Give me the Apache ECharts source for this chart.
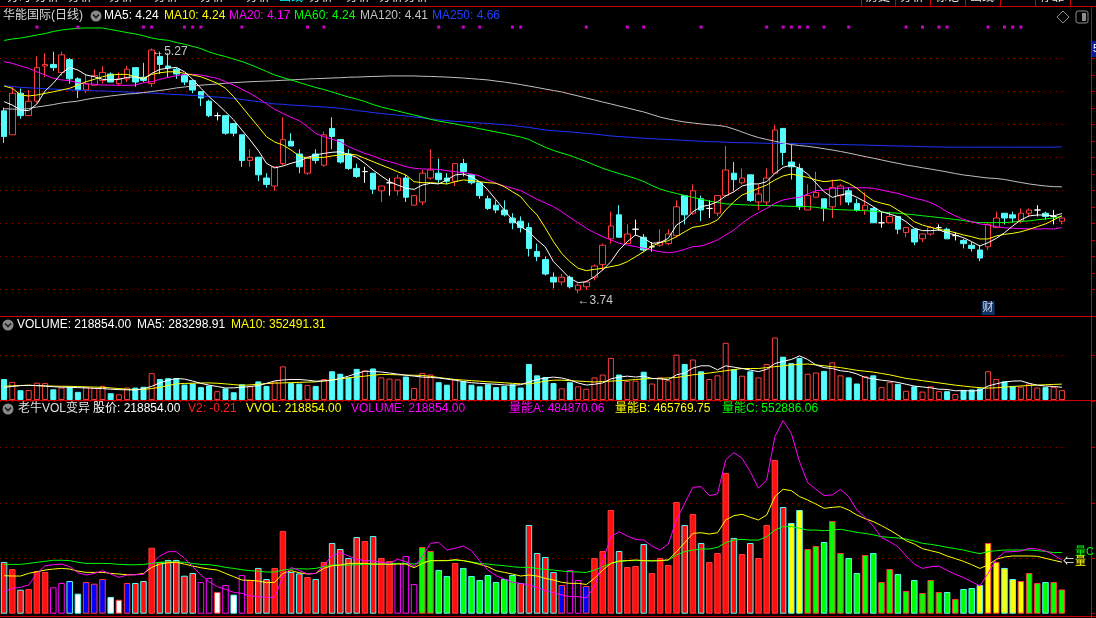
<!DOCTYPE html>
<html><head><meta charset="utf-8">
<script src="https://cdn.jsdelivr.net/npm/echarts@6/dist/echarts.min.js"></script>
<style>html,body{margin:0;padding:0;background:#000;overflow:hidden}#c{width:1096px;height:618px}</style>
</head><body><div id="c"></div>
<script>
// ---------- data ----------
const OPEN = [4.88,4.73,4.99,4.85,4.94,5.16,5.17,5.12,5.20,5.08,5.01,5.04,5.07,5.11,5.05,5.08,5.15,5.09,5.05,5.22,
5.16,5.14,5.10,5.07,5.00,4.94,4.85,4.85,4.80,4.73,4.57,4.59,4.46,4.41,4.55,4.69,4.61,4.49,4.61,4.54,
4.77,4.70,4.61,4.52,4.50,4.49,4.38,4.43,4.38,4.46,4.29,4.31,4.46,4.49,4.46,4.44,4.55,4.48,4.43,4.33,
4.29,4.26,4.21,4.19,4.15,4.00,3.95,3.84,3.81,3.84,3.76,3.78,3.84,3.92,4.08,4.23,4.05,4.14,4.09,4.03,
4.04,4.05,4.10,4.35,4.24,4.33,4.27,4.24,4.35,4.49,4.43,4.48,4.31,4.31,4.49,4.77,4.56,4.52,4.26,4.34,
4.33,4.28,4.35,4.38,4.30,4.26,4.27,4.18,4.18,4.22,4.12,4.14,4.08,4.11,4.15,4.14,4.10,4.07,4.04,4.01,
4.03,4.15,4.24,4.23,4.19,4.24,4.26,4.24,4.22,4.19];
const CLOSE = [4.72,4.99,4.85,4.94,5.15,5.17,5.15,5.23,5.08,5.01,5.05,5.10,5.12,5.06,5.08,5.14,5.06,5.07,5.26,5.17,
5.15,5.11,5.06,5.01,4.96,4.85,4.85,4.74,4.74,4.57,4.59,4.48,4.42,4.53,4.70,4.66,4.53,4.59,4.57,4.73,
4.72,4.56,4.52,4.47,4.50,4.39,4.41,4.43,4.46,4.34,4.35,4.49,4.51,4.45,4.44,4.55,4.50,4.43,4.35,4.27,
4.26,4.23,4.18,4.15,4.02,3.97,3.86,3.81,3.84,3.78,3.79,3.81,3.91,4.04,4.16,4.09,4.11,4.14,4.01,4.03,
4.06,4.11,4.28,4.23,4.38,4.26,4.27,4.35,4.51,4.45,4.46,4.32,4.36,4.46,4.76,4.62,4.53,4.28,4.35,4.37,
4.27,4.40,4.41,4.31,4.26,4.29,4.18,4.18,4.22,4.14,4.15,4.06,4.11,4.15,4.15,4.08,4.10,4.05,4.02,3.96,
4.17,4.21,4.21,4.21,4.24,4.26,4.26,4.22,4.22,4.21];
const LOW = [4.68,4.73,4.83,4.85,4.93,5.09,5.13,5.10,5.05,4.96,4.99,5.04,5.05,5.06,5.04,5.06,5.03,5.06,5.03,5.11,
5.09,5.08,5.04,4.99,4.91,4.84,4.82,4.73,4.72,4.53,4.53,4.44,4.40,4.38,4.54,4.66,4.49,4.48,4.55,4.53,
4.64,4.55,4.51,4.46,4.43,4.36,4.31,4.35,4.35,4.31,4.29,4.29,4.45,4.43,4.42,4.41,4.47,4.42,4.33,4.26,
4.24,4.22,4.14,4.12,3.97,3.94,3.85,3.77,3.79,3.77,3.74,3.76,3.82,3.88,4.05,4.09,4.05,4.10,4.00,4.00,
4.03,4.04,4.09,4.17,4.23,4.19,4.21,4.22,4.34,4.38,4.42,4.31,4.26,4.29,4.49,4.54,4.45,4.26,4.26,4.34,
4.19,4.21,4.29,4.29,4.25,4.23,4.18,4.15,4.18,4.11,4.09,4.04,4.06,4.10,4.13,4.08,4.07,4.02,4.00,3.94,
4.01,4.15,4.17,4.18,4.18,4.22,4.22,4.20,4.17,4.17];
const HIGH = [4.90,5.03,5.02,5.01,5.22,5.24,5.25,5.25,5.21,5.09,5.11,5.14,5.16,5.12,5.12,5.16,5.15,5.18,5.27,5.25,
5.24,5.15,5.11,5.07,5.00,4.95,4.87,4.85,4.80,4.73,4.64,4.59,4.49,4.53,4.84,4.74,4.64,4.59,4.64,4.75,
4.84,4.70,4.64,4.55,4.53,4.49,4.41,4.46,4.48,4.48,4.35,4.51,4.64,4.58,4.49,4.55,4.58,4.48,4.43,4.35,
4.32,4.32,4.24,4.22,4.18,4.05,3.97,3.87,3.86,3.85,3.80,3.82,3.92,4.05,4.25,4.29,4.17,4.20,4.11,4.06,
4.14,4.14,4.32,4.35,4.42,4.35,4.32,4.35,4.66,4.56,4.52,4.48,4.42,4.52,4.79,4.77,4.67,4.55,4.42,4.50,
4.33,4.45,4.42,4.40,4.33,4.37,4.28,4.25,4.25,4.22,4.15,4.14,4.11,4.16,4.17,4.15,4.12,4.08,4.06,4.04,
4.18,4.25,4.24,4.25,4.27,4.27,4.29,4.25,4.26,4.21];
const MA5 = [4.937,4.916,4.885,4.881,4.923,5.004,5.052,5.114,5.152,5.135,5.104,5.093,5.077,5.073,5.077,5.089,5.093,5.077,5.114,5.139,
5.146,5.152,5.124,5.077,5.021,4.968,4.923,4.874,4.823,4.760,4.698,4.631,4.552,4.523,4.535,4.552,4.566,4.589,4.604,4.614,
4.621,4.624,4.608,4.589,4.552,4.510,4.473,4.437,4.416,4.396,4.389,4.416,4.427,4.423,4.448,4.479,4.485,4.468,4.437,4.385,
4.323,4.260,4.198,4.156,4.124,4.073,4.029,3.937,3.885,3.833,3.806,3.812,3.843,3.885,3.937,4.010,4.062,4.104,4.083,4.052,
4.056,4.083,4.166,4.198,4.249,4.281,4.291,4.312,4.348,4.374,4.410,4.423,4.423,4.437,4.489,4.527,4.541,4.521,4.485,4.429,
4.374,4.339,4.354,4.364,4.339,4.312,4.281,4.249,4.235,4.218,4.187,4.146,4.131,4.131,4.135,4.118,4.104,4.087,4.062,4.035,
4.056,4.083,4.118,4.160,4.198,4.223,4.229,4.229,4.223,4.238];
const MA10 = [5.035,5.021,4.979,4.973,4.979,4.989,4.999,5.010,5.021,5.041,5.062,5.077,5.093,5.104,5.108,5.108,5.093,5.083,5.108,5.118,
5.124,5.124,5.114,5.104,5.093,5.073,5.052,5.021,4.968,4.906,4.843,4.781,4.718,4.685,4.666,4.635,4.598,4.583,4.589,4.589,
4.598,4.604,4.610,4.604,4.583,4.562,4.541,4.521,4.499,4.479,4.437,4.431,4.431,4.427,4.423,4.437,4.448,4.443,4.437,4.431,
4.427,4.406,4.374,4.343,4.281,4.229,4.148,4.062,3.989,3.937,3.896,3.881,3.889,3.896,3.906,3.916,3.937,3.968,3.999,4.035,
4.056,4.068,4.093,4.124,4.152,4.160,4.173,4.198,4.260,4.312,4.354,4.374,4.396,4.416,4.448,4.473,4.485,4.474,4.464,4.448,
4.437,4.443,4.448,4.427,4.396,4.354,4.318,4.302,4.291,4.260,4.229,4.187,4.166,4.152,4.139,4.131,4.118,4.104,4.093,4.079,
4.079,4.098,4.108,4.114,4.124,4.139,4.156,4.173,4.198,4.225];
const MA20 = [5.187,5.177,5.160,5.146,5.124,5.104,5.083,5.073,5.068,5.056,5.048,5.046,5.041,5.041,5.039,5.039,5.041,5.056,5.062,5.077,
5.089,5.099,5.108,5.108,5.104,5.093,5.083,5.062,5.041,5.014,4.989,4.958,4.923,4.889,4.864,4.839,4.818,4.781,4.739,4.718,
4.702,4.687,4.656,4.635,4.614,4.598,4.577,4.562,4.548,4.531,4.521,4.516,4.516,4.514,4.506,4.499,4.493,4.485,4.473,4.448,
4.427,4.410,4.396,4.381,4.354,4.327,4.304,4.281,4.249,4.214,4.181,4.146,4.118,4.093,4.073,4.052,4.041,4.031,4.021,4.010,
3.999,3.993,3.999,4.014,4.031,4.035,4.052,4.073,4.104,4.135,4.177,4.214,4.243,4.271,4.302,4.323,4.333,4.339,4.360,4.381,
4.385,4.396,4.396,4.399,4.399,4.399,4.396,4.385,4.374,4.364,4.348,4.333,4.323,4.306,4.281,4.249,4.223,4.202,4.187,4.173,
4.166,4.156,4.149,4.146,4.143,4.143,4.141,4.143,4.141,4.150];
const MA60 = [5.320,5.329,5.335,5.344,5.354,5.363,5.376,5.385,5.391,5.396,5.398,5.398,5.398,5.388,5.379,5.369,5.361,5.349,5.335,5.326,
5.321,5.307,5.296,5.283,5.269,5.248,5.232,5.219,5.204,5.188,5.169,5.148,5.126,5.104,5.088,5.073,5.057,5.041,5.026,5.013,
4.998,4.982,4.966,4.954,4.938,4.919,4.904,4.891,4.879,4.866,4.854,4.841,4.827,4.816,4.807,4.798,4.788,4.779,4.768,4.758,
4.748,4.738,4.727,4.716,4.701,4.676,4.652,4.632,4.616,4.601,4.582,4.563,4.541,4.521,4.504,4.488,4.473,4.457,4.438,4.413,
4.391,4.376,4.363,4.351,4.339,4.327,4.316,4.307,4.298,4.296,4.293,4.291,4.289,4.288,4.287,4.285,4.283,4.282,4.281,4.277,
4.269,4.264,4.262,4.260,4.257,4.256,4.252,4.248,4.243,4.240,4.235,4.230,4.224,4.219,4.213,4.207,4.201,4.194,4.186,4.181,
4.181,4.181,4.182,4.185,4.190,4.192,4.199,4.204,4.210,4.220];
const MA120 = [4.893,4.891,4.889,4.894,4.904,4.911,4.919,4.929,4.935,4.941,4.951,4.960,4.966,4.973,4.979,4.985,4.988,4.994,5.001,5.007,
5.014,5.023,5.029,5.035,5.040,5.044,5.048,5.052,5.056,5.059,5.062,5.064,5.066,5.068,5.071,5.073,5.076,5.079,5.081,5.083,
5.085,5.087,5.090,5.091,5.093,5.095,5.096,5.098,5.098,5.098,5.098,5.096,5.095,5.093,5.091,5.088,5.085,5.081,5.077,5.073,
5.066,5.060,5.052,5.044,5.035,5.026,5.016,5.007,4.998,4.985,4.973,4.960,4.948,4.935,4.923,4.910,4.898,4.885,4.873,4.857,
4.841,4.829,4.819,4.810,4.804,4.798,4.793,4.789,4.782,4.766,4.748,4.729,4.713,4.701,4.690,4.679,4.669,4.663,4.658,4.651,
4.643,4.635,4.626,4.616,4.605,4.594,4.584,4.573,4.562,4.552,4.541,4.533,4.524,4.516,4.507,4.498,4.488,4.479,4.473,4.466,
4.460,4.457,4.451,4.441,4.432,4.423,4.416,4.410,4.406,4.405];
const MA250 = [5.037,5.032,5.027,5.024,5.021,5.018,5.016,5.013,5.011,5.009,5.007,5.005,5.004,5.002,5.000,4.998,4.996,4.993,4.991,4.988,
4.985,4.982,4.979,4.976,4.973,4.969,4.966,4.962,4.958,4.951,4.944,4.937,4.931,4.923,4.921,4.916,4.913,4.910,4.907,4.904,
4.900,4.896,4.889,4.882,4.876,4.869,4.863,4.858,4.853,4.848,4.842,4.836,4.830,4.824,4.819,4.814,4.811,4.807,4.804,4.801,
4.797,4.793,4.789,4.782,4.776,4.768,4.760,4.756,4.752,4.748,4.744,4.739,4.734,4.729,4.723,4.719,4.716,4.712,4.709,4.706,
4.703,4.701,4.698,4.695,4.692,4.690,4.687,4.686,4.684,4.682,4.681,4.680,4.679,4.677,4.677,4.676,4.676,4.674,4.674,4.673,
4.671,4.671,4.669,4.668,4.667,4.666,4.664,4.663,4.661,4.660,4.659,4.658,4.656,4.655,4.654,4.653,4.653,4.653,4.653,4.653,
4.653,4.653,4.653,4.653,4.653,4.653,4.653,4.653,4.653,4.655];
const VOL = [467000,403000,217000,223000,385000,376000,238000,277000,295000,181000,286000,271000,313000,151000,126000,277000,277000,295000,596000,467000,
485000,485000,343000,367000,286000,322000,196000,259000,172000,349000,304000,413000,313000,413000,747000,376000,364000,331000,313000,467000,
638000,584000,503000,692000,656000,701000,503000,476000,458000,521000,268000,602000,566000,395000,340000,458000,413000,340000,304000,349000,
286000,313000,349000,277000,801000,548000,512000,376000,259000,395000,304000,250000,503000,566000,936000,566000,422000,431000,629000,367000,
503000,440000,1009000,801000,900000,638000,467000,548000,1271000,684000,539000,638000,503000,801000,1388000,963000,819000,936000,584000,611000,
647000,837000,548000,503000,367000,530000,548000,286000,403000,358000,205000,304000,187000,304000,196000,196000,133000,223000,232000,259000,
638000,467000,413000,313000,295000,367000,277000,286000,286000,218854];
const VOL_MA5 = [282000,300000,320000,327000,320000,310000,295000,285000,282000,275000,268000,260000,253000,240000,230000,226000,222000,250000,304000,380000,
440000,478000,465000,420000,370000,330000,300000,268000,270000,282000,300000,320000,370000,425000,445000,456000,456000,440000,418000,425000,
433000,480000,531000,590000,640000,635000,622000,600000,575000,550000,531000,510000,500000,490000,465000,440000,410000,385000,370000,360000,
350000,335000,327000,340000,400000,456000,490000,509000,489000,444000,378000,333000,350000,380000,470000,510000,530000,510000,530000,480000,
470000,450000,560000,600000,710000,760000,760000,670000,760000,730000,700000,665000,630000,680000,810000,860000,900000,980000,900000,780000,
720000,700000,650000,630000,580000,500000,470000,440000,420000,390000,350000,310000,290000,270000,240000,235000,205000,210000,200000,210000,
310000,360000,400000,420000,425000,370000,330000,310000,300000,283299];
const VOL_MA10 = [304000,315000,322000,327000,320000,313000,308000,305000,304000,298000,292000,287000,282000,268000,255000,240000,232000,235000,255000,282000,
320000,358000,368000,373000,378000,380000,372000,358000,342000,327000,335000,350000,365000,375000,380000,386000,392000,398000,403000,425000,
448000,470000,493000,512000,530000,550000,569000,565000,560000,555000,550000,546000,525000,500000,478000,456000,443000,430000,418000,406000,
395000,383000,370000,360000,358000,385000,420000,440000,440000,430000,420000,410000,400000,410000,420000,430000,440000,455000,470000,475000,
480000,490000,500000,530000,560000,580000,600000,625000,650000,675000,700000,700000,700000,720000,740000,760000,780000,790000,800000,780000,
760000,740000,720000,690000,660000,640000,620000,590000,560000,520000,480000,455000,430000,405000,380000,355000,330000,310000,290000,275000,
265000,272000,285000,298000,312000,322000,332000,340000,346000,352491];
const NENG_A = [199000,229000,238000,259000,364000,433000,442000,448000,424000,370000,349000,364000,388000,358000,328000,349000,352000,355000,454000,521000,
560000,560000,500000,424000,349000,289000,244000,220000,193000,184000,160000,154000,147000,147000,334000,418000,390000,358000,364000,439000,
524000,551000,521000,491000,479000,476000,464000,454000,491000,470000,424000,515000,635000,644000,575000,590000,611000,569000,476000,394000,
343000,313000,283000,274000,259000,238000,208000,190000,169000,154000,154000,142000,244000,470000,695000,740000,701000,671000,665000,611000,
575000,629000,846000,996000,1141000,1147000,1066000,1081000,1388000,1454000,1403000,1282000,1132000,1207000,1598000,1743000,1628000,1373000,1183000,1123000,
1066000,1072000,1123000,1057000,936000,870000,790000,686000,650000,605000,521000,448000,409000,424000,430000,391000,355000,328000,289000,250000,
364000,491000,557000,560000,566000,590000,584000,566000,530000,484870];
const NENG_B = [343000,340000,340000,364000,379000,394000,403000,409000,403000,385000,373000,373000,373000,364000,358000,352000,352000,364000,418000,448000,
460000,464000,448000,430000,415000,403000,394000,364000,334000,304000,301000,295000,280000,283000,364000,388000,370000,358000,364000,409000,
433000,439000,454000,454000,454000,448000,448000,445000,448000,448000,415000,454000,479000,479000,479000,488000,479000,464000,445000,424000,
388000,373000,358000,340000,349000,340000,319000,304000,283000,274000,274000,264000,319000,394000,454000,476000,479000,485000,479000,476000,
479000,485000,560000,641000,725000,731000,719000,731000,846000,885000,897000,870000,846000,891000,1057000,1123000,1111000,1057000,1026000,990000,
951000,960000,966000,936000,891000,858000,831000,795000,755000,710000,659000,629000,587000,569000,551000,521000,497000,473000,442000,409000,
439000,491000,512000,521000,521000,521000,518000,500000,482000,465770];
const NENG_C = [445000,445000,445000,454000,464000,473000,482000,482000,479000,464000,454000,454000,454000,452000,445000,442000,442000,445000,454000,464000,
467000,467000,464000,454000,445000,442000,433000,418000,409000,397000,388000,385000,376000,376000,394000,403000,406000,403000,409000,424000,
439000,439000,439000,442000,445000,448000,448000,452000,454000,454000,448000,464000,479000,479000,479000,482000,479000,467000,454000,448000,
439000,433000,424000,418000,418000,409000,400000,394000,385000,379000,376000,372000,394000,424000,454000,470000,479000,479000,479000,479000,
479000,485000,530000,560000,575000,584000,584000,599000,641000,665000,671000,665000,665000,695000,755000,786000,786000,771000,755000,755000,
749000,755000,762000,749000,734000,725000,712000,695000,689000,683000,674000,656000,635000,626000,614000,599000,587000,575000,557000,542000,
560000,569000,575000,575000,575000,575000,569000,563000,551000,552886];
// bar class of the lower indicator: R red, G green, Y yellow, B blue, W white, M hollow magenta
const BAR_CLASS = ("RRRRRRMMBWBBBWWBRRRRRRRRMMWMWM" + "RRRRRRRRRRRRRRRRRR" + "MMMGGGGRGGGGGGGRRRRRBMMB" +
  "RRRRRRRRRRRRRRRRRRRRRRRR" + "YYGGGGGGGGGGGGGGGGGGGGGYYYYYYGGGGG").split("");
const FLAG_IDX = [4,9,17,18,22,23,24,29,37,39,53,56,58,62,63,71,76,78,85,93,95,96,97,98,100,103,110,112,114,115,120,122,123,124];
const FIN_IDX = [120];
const CATS = OPEN.map((_, i) => i);

// ---------- style ----------
const FONT = '"Liberation Sans","Noto Sans CJK SC",sans-serif';
const UP = '#ff3c3c', DOWN = '#54fcfc', DOT = '#a00000', SEP = '#cc0000';
const BAR_COLOR = {R:'#ff1010', G:'#00ff00', Y:'#ffff00', B:'#0000ff', W:'#ffffff', M:'#000000'};
const FLAG_LEVEL = 0.935, FIN_LEVEL = 0.026;

const isUp = i => CLOSE[i] >= OPEN[i];
const xAx = g => ({type:'category', gridIndex:g, data:CATS, boundaryGap:true,
  axisLine:{show:false}, axisTick:{show:false}, axisLabel:{show:false}, splitLine:{show:false}});
const rightAxis = (g, min, max, interval, extra) => Object.assign({
  type:'value', gridIndex:g, min, max, interval, position:'right', offset:25,
  axisLine:{show:false}, axisLabel:{show:false},
  axisTick:{show:true, length:4, lineStyle:{color:SEP}},
  splitLine:{show:true, lineStyle:{color:DOT, type:[1,5], width:1}}
}, extra || {});
const line = (xi, yi, data, color, z) => ({type:'line', xAxisIndex:xi, yAxisIndex:yi, data, symbol:'none',
  lineStyle:{color, width:1}, silent:true, z: z || 4, animation:false});

const txt = (x, y, text, fill, size) => ({type:'text', x, y, silent:true, z:100,
  style:{text, fill, font:(size||12)+'px '+FONT, verticalAlign:'middle', textVerticalAlign:'middle'}});
const hline = (y, x1, x2, c) => ({type:'line', silent:true, z:90, shape:{x1, y1:y, x2, y2:y}, style:{stroke:c||SEP, lineWidth:1}});
const vline = (x, y1, y2, c) => ({type:'line', silent:true, z:90, shape:{x1:x, y1, x2:x, y2}, style:{stroke:c||SEP, lineWidth:1}});
const icon = (cx, cy) => [
  {type:'circle', silent:true, z:100, shape:{cx, cy, r:5.5}, style:{fill:'#8a8a8a'}},
  {type:'polyline', silent:true, z:101, shape:{points:[[cx-3,cy-1.5],[cx,cy+1.5],[cx+3,cy-1.5]]}, style:{stroke:'#1c1c1c', lineWidth:1.6, fill:null}}
];

const candleData = OPEN.map((o, i) => {
  const v = [o, CLOSE[i], LOW[i], HIGH[i]];
  if (o === CLOSE[i]) return {value:v, itemStyle:{color:'#fff', color0:'#fff', borderColor:'#fff', borderColor0:'#fff'}};
  return v;
});
const volData = VOL.map((v, i) => ({value:v, itemStyle: isUp(i)
  ? {color:'#000', borderColor:UP, borderWidth:1}
  : {color:DOWN, borderColor:DOWN, borderWidth:1}}));
const indData = VOL.map((v, i) => {
  const c = BAR_CLASS[i];
  return {value:v, itemStyle:{color:BAR_COLOR[c], borderColor: c === 'M' ? '#ff00ff' : (isUp(i) ? UP : DOWN), borderWidth:1}};
});

const topMenu = [];
[[7,'分时'],[35,'分析'],[68,'分析'],[109,'分析'],[154,'分析'],[200,'分析'],[246,'分析'],[279,'画线'],[309,'分析'],[346,'分析'],[379,'分析'],[404,'分析']]
  .forEach(([x, t], k) => topMenu.push(txt(x, -2, t, k === 7 ? '#00ffff' : '#e8e8e8', 12)));
[861,895,930,965,1000,1035,1070].forEach(x => topMenu.push(vline(x + 0.5, 0, 6)));
[[866,'历史'],[900,'分析'],[935,'标记'],[970,'画线'],[1040,'停靠']].forEach(([x, t]) => topMenu.push(txt(x, -2, t, '#e8e8e8', 12)));

const option = {
  backgroundColor:'#000',
  animation:false,
  grid:[
    {left:0, width:1066, top:7, height:309, outerBoundsMode:'none'},
    {left:0, width:1066, top:316, height:84, outerBoundsMode:'none'},
    {left:0, width:1066, top:401, height:212.7, outerBoundsMode:'none'},
    {left:0, width:1066, top:58.3, height:231, outerBoundsMode:'none'}
  ],
  xAxis:[xAx(0), xAx(1), xAx(2), xAx(3)],
  yAxis:[
    {type:'value', gridIndex:0, min:3.5975, max:5.529, show:false},
    rightAxis(1, 0, 1866667, 1000000),
    rightAxis(2, 0, 1920000, 500000),
    rightAxis(3, 0, 7, 1, {minorTick:{show:true, splitNumber:2, length:4, lineStyle:{color:SEP}}}),
    {type:'value', gridIndex:0, min:0, max:1, show:false}
  ],
  series:[
    {type:'candlestick', xAxisIndex:0, yAxisIndex:0, data:candleData, barWidth:6, z:3,
      itemStyle:{color:'#000', color0:DOWN, borderColor:UP, borderColor0:DOWN, borderWidth:1},
      markPoint:{symbol:'circle', symbolSize:1, itemStyle:{color:'rgba(0,0,0,0)'}, silent:true,
        label:{show:true, color:'#c8c8c8', fontSize:12, fontFamily:FONT, formatter:p => '\u2190' + Number(p.value).toFixed(2)},
        data:[
          {type:'max', valueDim:'highest', label:{position:'right', distance:0, offset:[0,3]}},
          {type:'min', valueDim:'lowest', label:{position:'right', distance:0, offset:[-1,7]}}
        ]}
    },
    line(0, 0, MA250, '#1e32ff'),
    line(0, 0, MA120, '#c0c0c0'),
    line(0, 0, MA60, '#00ff00'),
    line(0, 0, MA20, '#ff00ff'),
    line(0, 0, MA10, '#ffff00'),
    line(0, 0, MA5, '#ffffff', 5),
    {type:'scatter', xAxisIndex:0, yAxisIndex:4, data:FLAG_IDX.map(i => [i, FLAG_LEVEL]), symbol:'rect', symbolSize:[3,3],
      itemStyle:{color:'#ff00ff'}, silent:true, z:6},
    {type:'scatter', xAxisIndex:0, yAxisIndex:4, data:FIN_IDX.map(i => [i, FIN_LEVEL]), symbol:'rect', symbolSize:[13,14],
      itemStyle:{color:'#17407e'}, silent:true, z:6,
      label:{show:true, position:'inside', formatter:'财', color:'#ffffff', fontSize:11, fontFamily:FONT}},
    {type:'bar', xAxisIndex:1, yAxisIndex:1, data:volData, barWidth:6, silent:true, z:3},
    line(1, 1, VOL_MA10, '#ffff00'),
    line(1, 1, VOL_MA5, '#ffffff', 5),
    {type:'bar', xAxisIndex:2, yAxisIndex:2, data:indData, barWidth:6.5, silent:true, z:3},
    line(2, 2, NENG_C, '#00ff00'),
    line(2, 2, NENG_B, '#ffff00'),
    line(2, 2, NENG_A, '#ff00ff')
  ],
  graphic:{elements:[
    ...topMenu,
    hline(6.5, 0, 1096), hline(316.5, 0, 1096), hline(400.5, 0, 1096), hline(616.5, 0, 1096),
    vline(1091.5, 6, 618),
    txt(3, 16, '华能国际(日线)', '#d8d8d8'),
    ...icon(96, 16),
    txt(104, 16, 'MA5: 4.24', '#ffffff'),
    txt(164, 16, 'MA10: 4.24', '#ffff00'),
    txt(229, 16, 'MA20: 4.17', '#ff00ff'),
    txt(294, 16, 'MA60: 4.24', '#00ff00'),
    txt(360, 16, 'MA120: 4.41', '#c0c0c0'),
    txt(432, 16, 'MA250: 4.66', '#2040ff'),
    {type:'polygon', silent:true, z:100, shape:{points:[[1063,11],[1069,17],[1063,23],[1057,17]]}, style:{stroke:'#8c8c8c', fill:null, lineWidth:1}},
    {type:'rect', silent:true, z:100, shape:{x:1076, y:11, width:12, height:12, r:2}, style:{stroke:'#8c8c8c', fill:null, lineWidth:1}},
    {type:'rect', silent:true, z:100, shape:{x:1082, y:13, width:4, height:8}, style:{fill:'#8c8c8c'}},
    {type:'rect', silent:true, z:100, shape:{x:1092, y:41, width:6, height:16}, style:{fill:'#0a1a9a'}},
    txt(1093, 49, '5', '#ffffff', 11),
    ...icon(8, 325),
    txt(17, 325, 'VOLUME: 218854.00', '#ffffff'),
    txt(137, 325, 'MA5: 283298.91', '#ffffff'),
    txt(231, 325, 'MA10: 352491.31', '#ffff00'),
    ...icon(8, 409),
    txt(18, 409, '老牛VOL变异', '#e0e0e0'),
    txt(93, 409, '股价: 218854.00', '#ffffff'),
    txt(188, 409, 'V2: -0.21', '#ff2020'),
    txt(246, 409, 'VVOL: 218854.00', '#ffff00'),
    txt(351, 409, 'VOLUME: 218854.00', '#ff00ff'),
    txt(509, 409, '量能A: 484870.06', '#ff00ff'),
    txt(615, 409, '量能B: 465769.75', '#ffff00'),
    txt(722, 409, '量能C: 552886.06', '#00ff00'),
    txt(1075, 552, '量', '#00ff00', 11),
    txt(1075, 562, '量', '#ffff00', 11),
    txt(1063, 562, '\u21d0', '#ffffff', 11),
    txt(1086, 552, 'C', '#00ff00', 11)
  ]}
};
const chart = echarts.init(document.getElementById('c'), null, {renderer:'canvas', width:1096, height:618});
chart.setOption(option);
</script>
</body></html>
